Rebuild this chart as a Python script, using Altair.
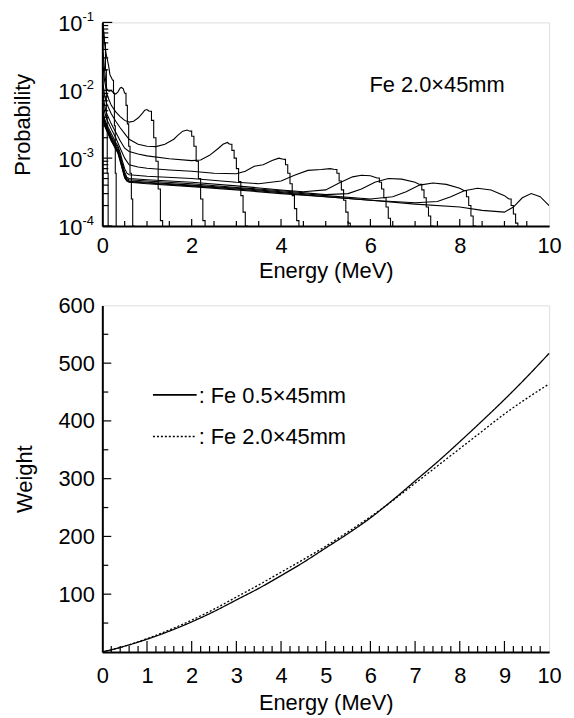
import altair as alt
import pandas as pd

FONT = "Liberation Sans"
FS = 22

# ---------------- top panel: response functions, Fe 2.0x45mm ----------------
# each curve: smooth part (E, P) and the histogram drop-off at the end (E, P)
c01_se = [0.01, 0.03, 0.05]
c01_sp = [0.1, 0.075, 0.05]
c01_de = [0.05, 0.07, 0.09, 0.11, 0.13]
c01_dp = [0.05, 0.02, 0.004, 0.0006, 0.00005]

c03_se = [0.01, 0.03, 0.05, 0.07, 0.09, 0.11, 0.13, 0.15, 0.17, 0.19, 0.21, 0.23]
c03_sp = [0.09, 0.07, 0.05, 0.04, 0.033, 0.029, 0.025, 0.021, 0.017, 0.016, 0.015, 0.014]
c03_de = [0.23, 0.25, 0.27, 0.29, 0.31]
c03_dp = [0.014, 0.009, 0.003, 0.0006, 0.00005]

c05_se = [0.02, 0.05, 0.08, 0.1, 0.13, 0.16, 0.2, 0.25, 0.3, 0.35, 0.4, 0.43, 0.47, 0.5]
c05_sp = [0.035, 0.02, 0.013, 0.0105, 0.0098, 0.0097, 0.0099, 0.0092, 0.0088, 0.0095, 0.0108, 0.011, 0.0105, 0.009]
c05_de = [0.5, 0.53, 0.56, 0.59, 0.62, 0.65, 0.68, 0.71]
c05_dp = [0.009, 0.006, 0.0032, 0.0015, 0.0006, 0.00025, 0.0001, 0.00005]

c1_se = [0.02, 0.05, 0.1, 0.15, 0.2, 0.3, 0.4, 0.5, 0.6, 0.7, 0.8, 0.9, 0.95, 1.0, 1.05]
c1_sp = [0.022, 0.014, 0.009, 0.0072, 0.006, 0.0048, 0.0041, 0.0036, 0.0034, 0.0035, 0.0039, 0.0046, 0.0051, 0.0052, 0.0049]
c1_de = [1.05, 1.1, 1.15, 1.2, 1.25, 1.3, 1.35]
c1_dp = [0.0049, 0.0036, 0.002, 0.0009, 0.00035, 0.00012, 0.00005]

c2_se = [0.02, 0.05, 0.1, 0.2, 0.3, 0.4, 0.5, 0.6, 0.8, 1.0, 1.2, 1.4, 1.6, 1.7, 1.8, 1.9, 1.95]
c2_sp = [0.012, 0.0085, 0.0063, 0.0045, 0.0035, 0.0028, 0.0023, 0.0019, 0.0016, 0.0015, 0.00148, 0.0016, 0.0019, 0.0022, 0.0025, 0.0026, 0.0025]
c2_de = [1.95, 2.0, 2.05, 2.1, 2.15, 2.2, 2.25, 2.3, 2.35]
c2_dp = [0.0025, 0.0021, 0.0015, 0.0009, 0.0005, 0.00025, 0.00012, 0.00007, 0.00005]

c3_se = [0.02, 0.05, 0.1, 0.2, 0.3, 0.4, 0.5, 0.6, 0.8, 1.0, 1.5, 2.0, 2.2, 2.4, 2.6, 2.7, 2.8, 2.85]
c3_sp = [0.0085, 0.006, 0.0045, 0.0032, 0.0024, 0.0018, 0.0014, 0.00125, 0.00115, 0.00108, 0.00098, 0.00092, 0.00094, 0.0011, 0.0014, 0.0016, 0.0017, 0.0016]
c3_de = [2.85, 2.9, 2.95, 3.0, 3.05, 3.1, 3.15, 3.2, 3.25]
c3_dp = [0.0016, 0.0013, 0.001, 0.0007, 0.00045, 0.00028, 0.00016, 0.0001, 0.00005]

c4_se = [0.02, 0.05, 0.1, 0.2, 0.3, 0.4, 0.5, 0.6, 0.8, 1.0, 1.5, 2.0, 2.5, 3.0, 3.2, 3.4, 3.6, 3.8, 3.95, 4.05]
c4_sp = [0.0065, 0.0048, 0.0037, 0.0027, 0.002, 0.0014, 0.001, 0.0008, 0.00074, 0.00071, 0.00067, 0.00064, 0.0006, 0.00059, 0.00064, 0.00076, 0.0008, 0.00092, 0.001, 0.00096]
c4_de = [4.05, 4.1, 4.15, 4.2, 4.25, 4.3, 4.35, 4.4, 4.45, 4.5]
c4_dp = [0.00096, 0.0008, 0.0006, 0.00042, 0.00028, 0.00018, 0.00012, 0.00008, 0.00006, 0.00005]

c5_se = [0.02, 0.05, 0.1, 0.2, 0.3, 0.35, 0.4, 0.45, 0.5, 0.55, 0.6, 1.0, 2.0, 3.0, 3.5, 4.0, 4.3, 4.6, 4.9, 5.1, 5.2]
c5_sp = [0.0048, 0.0038, 0.0031, 0.0023, 0.0017, 0.0015, 0.0012, 0.0009, 0.0007, 0.0006, 0.00057, 0.00054, 0.0005, 0.00044, 0.00042, 0.00046, 0.00056, 0.00066, 0.00068, 0.0007, 0.00068]
c5_de = [5.2, 5.25, 5.3, 5.35, 5.4, 5.45, 5.5, 5.55, 5.6]
c5_dp = [0.00068, 0.0006, 0.00046, 0.00034, 0.00024, 0.00016, 0.00011, 0.00007, 0.00005]

c6_se = [0.02, 0.05, 0.1, 0.2, 0.3, 0.35, 0.4, 0.45, 0.5, 0.55, 0.6, 1.0, 2.0, 3.0, 4.0, 4.5, 5.0, 5.3, 5.6, 5.8, 6.0, 6.15]
c6_sp = [0.0044, 0.0035, 0.0029, 0.0021, 0.0016, 0.0014, 0.0011, 0.00082, 0.00062, 0.00052, 0.0005, 0.00048, 0.00044, 0.00039, 0.00034, 0.00032, 0.00034, 0.00043, 0.00053, 0.00056, 0.00055, 0.00051]
c6_de = [6.15, 6.2, 6.25, 6.3, 6.35, 6.4, 6.45, 6.5, 6.55]
c6_dp = [0.00051, 0.00044, 0.00035, 0.00026, 0.00019, 0.00013, 0.00009, 0.00006, 0.00005]

c7_se = [0.02, 0.05, 0.1, 0.2, 0.3, 0.35, 0.4, 0.45, 0.5, 0.55, 0.6, 1.0, 2.0, 3.0, 4.0, 5.0, 5.5, 5.8, 6.1, 6.4, 6.7, 7.0, 7.1]
c7_sp = [0.0041, 0.0033, 0.0028, 0.002, 0.0015, 0.0013, 0.001, 0.00076, 0.00058, 0.0005, 0.00048, 0.00046, 0.00042, 0.00037, 0.00033, 0.00029, 0.0003, 0.00035, 0.00044, 0.0005, 0.00049, 0.00044, 0.00041]
c7_de = [7.1, 7.15, 7.2, 7.25, 7.3, 7.35, 7.4, 7.45]
c7_dp = [0.00041, 0.00034, 0.00026, 0.00019, 0.00014, 0.0001, 0.00007, 0.00005]

c8_se = [0.02, 0.05, 0.1, 0.2, 0.3, 0.35, 0.4, 0.45, 0.5, 0.55, 0.6, 1.0, 2.0, 3.0, 4.0, 5.0, 6.0, 6.5, 6.8, 7.1, 7.4, 7.7, 8.0, 8.1]
c8_sp = [0.0039, 0.0032, 0.0027, 0.0019, 0.00145, 0.00125, 0.00097, 0.00073, 0.00055, 0.00048, 0.00046, 0.00044, 0.0004, 0.00036, 0.00032, 0.00028, 0.00025, 0.00027, 0.00032, 0.0004, 0.00043, 0.00041, 0.00036, 0.00033]
c8_de = [8.1, 8.15, 8.2, 8.25, 8.3, 8.35, 8.4]
c8_dp = [0.00033, 0.00027, 0.0002, 0.00014, 0.0001, 0.00007, 0.00005]

c9_se = [0.02, 0.05, 0.1, 0.2, 0.3, 0.35, 0.4, 0.45, 0.5, 0.55, 0.6, 1.0, 2.0, 3.0, 4.0, 5.0, 6.0, 7.0, 7.5, 7.8, 8.1, 8.4, 8.7, 9.0, 9.1]
c9_sp = [0.0037, 0.0031, 0.0026, 0.0018, 0.0014, 0.0012, 0.00094, 0.0007, 0.00053, 0.00047, 0.00045, 0.00043, 0.00039, 0.00035, 0.00031, 0.00027, 0.00024, 0.00022, 0.00023, 0.00027, 0.00033, 0.00036, 0.00034, 0.00028, 0.00025]
c9_de = [9.1, 9.15, 9.2, 9.25, 9.3, 9.35, 9.4]
c9_dp = [0.00025, 0.0002, 0.00015, 0.00011, 0.00008, 0.00006, 0.00005]

c10_se = [0.02, 0.05, 0.1, 0.2, 0.3, 0.35, 0.4, 0.45, 0.5, 0.55, 0.6, 1.0, 2.0, 3.0, 4.0, 5.0, 6.0, 7.0, 8.0, 8.5, 9.0, 9.2, 9.4, 9.6, 9.8, 10.0]
c10_sp = [0.0035, 0.003, 0.0025, 0.0018, 0.00135, 0.00118, 0.0009, 0.00068, 0.00051, 0.00046, 0.00044, 0.00042, 0.00038, 0.00034, 0.0003, 0.00027, 0.00024, 0.00021, 0.00019, 0.00017, 0.00016, 0.00019, 0.00026, 0.0003, 0.00027, 0.0002]
c10_de = []
c10_dp = []

curves = {
    "0.1": (c01_se, c01_sp, c01_de, c01_dp),
    "0.3": (c03_se, c03_sp, c03_de, c03_dp),
    "0.5": (c05_se, c05_sp, c05_de, c05_dp),
    "1": (c1_se, c1_sp, c1_de, c1_dp),
    "2": (c2_se, c2_sp, c2_de, c2_dp),
    "3": (c3_se, c3_sp, c3_de, c3_dp),
    "4": (c4_se, c4_sp, c4_de, c4_dp),
    "5": (c5_se, c5_sp, c5_de, c5_dp),
    "6": (c6_se, c6_sp, c6_de, c6_dp),
    "7": (c7_se, c7_sp, c7_de, c7_dp),
    "8": (c8_se, c8_sp, c8_de, c8_dp),
    "9": (c9_se, c9_sp, c9_de, c9_dp),
    "10": (c10_se, c10_sp, c10_de, c10_dp),
}

rows = []
for name, (se, sp, de, dp) in curves.items():
    for i, (e, p) in enumerate(zip(se, sp)):
        rows.append({"curve": name, "part": "smooth", "i": i, "E": e, "P": p})
    for i, (e, p) in enumerate(zip(de, dp)):
        rows.append({"curve": name, "part": "drop", "i": i, "E": e, "P": p})
resp = pd.DataFrame(rows)

# tick positions / labels
top_x_labels = [0, 2, 4, 6, 8, 10]
top_x_major = [2, 4, 6, 8]
top_x_minor = [0.5, 1, 1.5, 2.5, 3, 3.5, 4.5, 5, 5.5, 6.5, 7, 7.5, 8.5, 9, 9.5]
top_y_decades = [0.1, 0.01, 0.001, 0.0001]
top_y_exponents = ["-1", "-2", "-3", "-4"]
top_y_minor = [0.0002, 0.0003, 0.0004, 0.0005, 0.0006, 0.0007, 0.0008, 0.0009,
               0.002, 0.003, 0.004, 0.005, 0.006, 0.007, 0.008, 0.009,
               0.02, 0.03, 0.04, 0.05, 0.06, 0.07, 0.08, 0.09]

# ---------------- bottom panel: weighting functions ----------------
w_energy = [0, 0.5, 1, 1.5, 2, 2.5, 3, 3.5, 4, 4.5, 5, 5.5, 6, 6.5, 7, 7.5, 8, 8.5, 9, 9.5, 10]
w_fe05 = [0, 10, 22, 36, 52, 70, 90, 110, 132, 155, 180, 205, 232, 263, 296, 329, 364, 400, 437, 476, 517]
w_fe20 = [0, 10, 23, 38, 55, 74, 95, 116, 138, 160, 183, 208, 234, 262, 292, 322, 352, 382, 412, 439, 464]
series_names = ["Fe 0.5×45mm", "Fe 2.0×45mm"]

bot_x_labels = [0, 1, 2, 3, 4, 5, 6, 7, 8, 9, 10]
bot_x_major = [1, 2, 3, 4, 5, 6, 7, 8, 9]
bot_x_minor = [0.2, 0.4, 0.6, 0.8, 1.2, 1.4, 1.6, 1.8, 2.2, 2.4, 2.6, 2.8, 3.2, 3.4, 3.6, 3.8,
               4.2, 4.4, 4.6, 4.8, 5.2, 5.4, 5.6, 5.8, 6.2, 6.4, 6.6, 6.8, 7.2, 7.4, 7.6, 7.8,
               8.2, 8.4, 8.6, 8.8, 9.2, 9.4, 9.6, 9.8]
bot_y_labels = [100, 200, 300, 400, 500, 600]
bot_y_major = [100, 200, 300, 400, 500]
bot_y_minor = [50, 150, 250, 350, 450, 550]

weights = pd.DataFrame({
    "E": w_energy * 2,
    "W": w_fe05 + w_fe20,
    "s": [series_names[0]] * len(w_energy) + [series_names[1]] * len(w_energy),
})

# ---------------- layout ----------------
W = 450
H_TOP = 205
H_BOT = 349

xs_top = alt.Scale(domain=[0, 10], nice=False, zero=False)
ys_top = alt.Scale(type="log", domain=[0.0001, 0.1], nice=False)

axis_common = dict(labelFont=FONT, labelFontSize=FS, labelColor="black",
                   titleFont=FONT, titleFontSize=FS, titleFontWeight="normal", titleColor="black",
                   domainColor="black", domainWidth=2, ticks=False, grid=False, labelFlush=False)

base_top = alt.Chart(resp)

smooth = base_top.transform_filter(alt.datum.part == "smooth").mark_line(
    color="black", strokeWidth=1.1, clip=True, interpolate="linear"
).encode(
    x=alt.X("E:Q", scale=xs_top,
            axis=alt.Axis(values=top_x_labels, title="Energy (MeV)", labelPadding=10,
                          titlePadding=4, **axis_common)),
    y=alt.Y("P:Q", scale=ys_top,
            axis=alt.Axis(labels=False, title="Probability", titlePadding=68, **axis_common)),
    detail="curve:N",
    order="i:Q",
)

drop = base_top.transform_filter(alt.datum.part == "drop").mark_line(
    color="black", strokeWidth=1.1, clip=True, interpolate="step-after"
).encode(
    x=alt.X("E:Q", scale=xs_top),
    y=alt.Y("P:Q", scale=ys_top),
    detail="curve:N",
    order="i:Q",
)

tx_major = alt.Chart(pd.DataFrame({"v": top_x_major})).mark_rule(color="black", strokeWidth=1.2).encode(
    x=alt.X("v:Q", scale=xs_top), y=alt.value(H_TOP), y2=alt.value(H_TOP - 7))
tx_minor = alt.Chart(pd.DataFrame({"v": top_x_minor})).mark_rule(color="black", strokeWidth=1.2).encode(
    x=alt.X("v:Q", scale=xs_top), y=alt.value(H_TOP), y2=alt.value(H_TOP - 5))
ty_major = alt.Chart(pd.DataFrame({"v": top_y_decades})).mark_rule(color="black", strokeWidth=1.2).encode(
    y=alt.Y("v:Q", scale=ys_top), x=alt.value(0), x2=alt.value(10))
ty_minor = alt.Chart(pd.DataFrame({"v": top_y_minor})).mark_rule(color="black", strokeWidth=1.2).encode(
    y=alt.Y("v:Q", scale=ys_top), x=alt.value(0), x2=alt.value(6))

ylab_df = pd.DataFrame({"v": top_y_decades, "e": top_y_exponents, "b": ["10"] * 4})
ylab_base = alt.Chart(ylab_df).mark_text(font=FONT, fontSize=FS, align="right", baseline="middle",
                                         color="black", dy=2).encode(
    y=alt.Y("v:Q", scale=ys_top), x=alt.value(-20), text="b:N")
ylab_exp = alt.Chart(ylab_df).mark_text(font=FONT, fontSize=13, align="left", baseline="middle",
                                        color="black", dy=-5).encode(
    y=alt.Y("v:Q", scale=ys_top), x=alt.value(-20), text="e:N")

top_note = alt.Chart(pd.DataFrame({"t": ["Fe 2.0×45mm"]})).mark_text(
    font=FONT, fontSize=FS, align="left", baseline="middle", color="black").encode(
    x=alt.value(269), y=alt.value(63), text="t:N")

top = alt.layer(smooth, drop, tx_major, tx_minor, ty_major, ty_minor, ylab_base, ylab_exp, top_note).properties(
    width=W, height=H_TOP)

xs_bot = alt.Scale(domain=[0, 10], nice=False, zero=False)
ys_bot = alt.Scale(domain=[0, 600], nice=False, zero=False)

wlines = alt.Chart(weights).mark_line(color="black", strokeWidth=1.3, interpolate="monotone").encode(
    x=alt.X("E:Q", scale=xs_bot,
            axis=alt.Axis(values=bot_x_labels, title="Energy (MeV)", labelPadding=14,
                          titlePadding=6, **axis_common)),
    y=alt.Y("W:Q", scale=ys_bot,
            axis=alt.Axis(values=bot_y_labels, title="Weight", labelPadding=8,
                          titlePadding=22, **axis_common)),
    strokeDash=alt.StrokeDash("s:N", scale=alt.Scale(domain=series_names, range=[[1, 0], [2, 2]]),
                              legend=None),
)

bx_major = alt.Chart(pd.DataFrame({"v": bot_x_major})).mark_rule(color="black", strokeWidth=1.2).encode(
    x=alt.X("v:Q", scale=xs_bot), y=alt.value(H_BOT), y2=alt.value(H_BOT - 11))
bx_minor = alt.Chart(pd.DataFrame({"v": bot_x_minor})).mark_rule(color="black", strokeWidth=1.2).encode(
    x=alt.X("v:Q", scale=xs_bot), y=alt.value(H_BOT), y2=alt.value(H_BOT - 6))
by_major = alt.Chart(pd.DataFrame({"v": bot_y_major})).mark_rule(color="black", strokeWidth=1.2).encode(
    y=alt.Y("v:Q", scale=ys_bot), x=alt.value(0), x2=alt.value(9))
by_minor = alt.Chart(pd.DataFrame({"v": bot_y_minor})).mark_rule(color="black", strokeWidth=1.2).encode(
    y=alt.Y("v:Q", scale=ys_bot), x=alt.value(0), x2=alt.value(6))

one = pd.DataFrame({"k": [0]})
leg_solid = alt.Chart(one).mark_rule(color="black", strokeWidth=1.8).encode(
    x=alt.value(51), x2=alt.value(95), y=alt.value(90))
leg_dot = alt.Chart(one).mark_rule(color="black", strokeWidth=1.5, strokeDash=[2, 2]).encode(
    x=alt.value(51), x2=alt.value(95), y=alt.value(132))
leg_text1 = alt.Chart(pd.DataFrame({"t": [": " + series_names[0]]})).mark_text(
    font=FONT, fontSize=FS, align="left", baseline="middle", color="black").encode(
    x=alt.value(97), y=alt.value(91), text="t:N")
leg_text2 = alt.Chart(pd.DataFrame({"t": [": " + series_names[1]]})).mark_text(
    font=FONT, fontSize=FS, align="left", baseline="middle", color="black").encode(
    x=alt.value(97), y=alt.value(133), text="t:N")

bottom = alt.layer(wlines, bx_major, bx_minor, by_major, by_minor,
                   leg_solid, leg_dot, leg_text1, leg_text2).properties(width=W, height=H_BOT)

chart = alt.vconcat(top, bottom, spacing=11).properties(
    padding={"left": 3, "top": 0, "right": 4, "bottom": 0}
).configure_view(stroke="black", strokeWidth=1.5).configure(background="white")

chart.save("out.html", embed_options={"renderer": "svg", "actions": False})
